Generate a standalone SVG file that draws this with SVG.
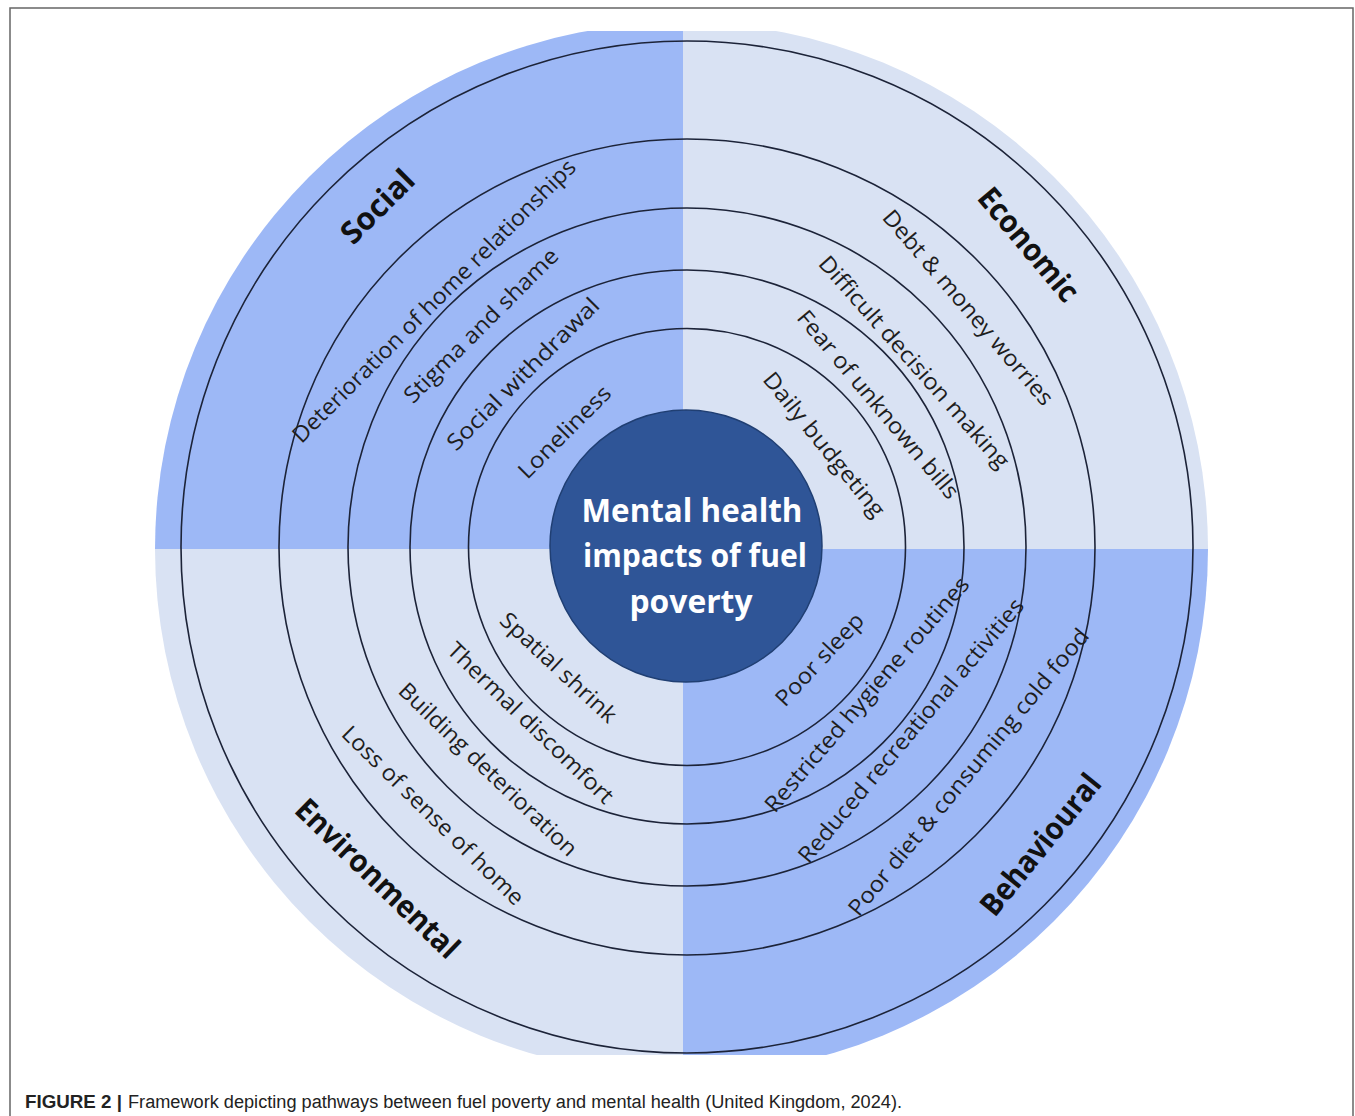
<svg xmlns="http://www.w3.org/2000/svg" width="1355" height="1116" viewBox="0 0 1355 1116">
<style>
.item{font-family:"Open Sans","Noto Sans",sans-serif;font-size:22.5px;fill:#1e1e1e;text-anchor:middle}
.title{font-family:"Open Sans","Noto Sans",sans-serif;font-size:31px;font-weight:bold;fill:#111;text-anchor:middle}
.center{font-family:"Open Sans","Noto Sans",sans-serif;font-size:31.5px;font-weight:bold;fill:#fff;text-anchor:middle}
.ring{fill:none;stroke:#1c2338;stroke-width:1.6}
.dark{fill:#9db8f6}
.light{fill:#d9e2f3}
.cap{font-family:"Liberation Sans",Arial,sans-serif;font-size:18px;fill:#222}
</style>
<defs>
<clipPath id="disc"><circle cx="681.5" cy="549" r="526.5"/></clipPath>
</defs>
<rect width="1355" height="1116" fill="#fff"/>
<path d="M10,1120 V8 H1353 V1120" fill="none" stroke="#666" stroke-width="1.5"/>

<g id="quadrants" clip-path="url(#disc)">
<rect id="q-social" class="dark" x="150" y="31" width="533" height="518"/>
<rect id="q-economic" class="light" x="683" y="31" width="530" height="518"/>
<rect id="q-environmental" class="light" x="150" y="549" width="533" height="506"/>
<rect id="q-behavioural" class="dark" x="683" y="549" width="530" height="506"/>
</g>

<g id="rings">
<circle class="ring" cx="687" cy="547" r="506"/>
<circle class="ring" cx="687" cy="547" r="408"/>
<circle class="ring" cx="687" cy="547" r="339"/>
<circle class="ring" cx="687" cy="547" r="277"/>
<circle class="ring" cx="687" cy="547" r="218.5"/>
</g>

<g id="center-node">
<circle cx="686" cy="546" r="136" fill="#2f5597" stroke="#203f73" stroke-width="1.5"/>
<text class="center" x="692" y="522" textLength="221" lengthAdjust="spacingAndGlyphs">Mental health</text>
<text class="center" x="695" y="567" textLength="224" lengthAdjust="spacingAndGlyphs">impacts of fuel</text>
<text class="center" x="691" y="613" textLength="123" lengthAdjust="spacingAndGlyphs">poverty</text>
</g>

<g id="social">
<text class="title" transform="translate(378,207) rotate(-45)" y="10" textLength="90" lengthAdjust="spacingAndGlyphs">Social</text>
<text class="item" transform="translate(434.5,301.5) rotate(-45)" y="7" textLength="390" lengthAdjust="spacingAndGlyphs">Deterioration of home relationships</text>
<text class="item" transform="translate(481.5,326) rotate(-45)" y="7" textLength="208" lengthAdjust="spacingAndGlyphs">Stigma and shame</text>
<text class="item" transform="translate(523.5,374.5) rotate(-45)" y="7" textLength="205" lengthAdjust="spacingAndGlyphs">Social withdrawal</text>
<text class="item" transform="translate(565,432.5) rotate(-45)" y="7" textLength="121" lengthAdjust="spacingAndGlyphs">Loneliness</text>
</g>

<g id="economic">
<text class="title" transform="translate(1028,245) rotate(50)" y="10" textLength="138" lengthAdjust="spacingAndGlyphs">Economic</text>
<text class="item" transform="translate(967.5,308) rotate(49.5)" y="7" textLength="249" lengthAdjust="spacingAndGlyphs">Debt &amp; money worries</text>
<text class="item" transform="translate(913.5,362.5) rotate(48.5)" y="7" textLength="275" lengthAdjust="spacingAndGlyphs">Difficult decision making</text>
<text class="item" transform="translate(877.5,405) rotate(50)" y="7" textLength="238" lengthAdjust="spacingAndGlyphs">Fear of unknown bills</text>
<text class="item" transform="translate(823.5,445) rotate(51)" y="7" textLength="179" lengthAdjust="spacingAndGlyphs">Daily budgeting</text>
</g>

<g id="environmental">
<text class="item" transform="translate(558,668) rotate(43)" y="7" textLength="150" lengthAdjust="spacingAndGlyphs">Spatial shrink</text>
<text class="item" transform="translate(530,723.5) rotate(44)" y="7" textLength="221" lengthAdjust="spacingAndGlyphs">Thermal discomfort</text>
<text class="item" transform="translate(487.5,770) rotate(44)" y="7" textLength="238" lengthAdjust="spacingAndGlyphs">Building deterioration</text>
<text class="item" transform="translate(432.5,816) rotate(44.5)" y="7" textLength="245" lengthAdjust="spacingAndGlyphs">Loss of sense of home</text>
<text class="title" transform="translate(377,879) rotate(44)" y="10" textLength="214" lengthAdjust="spacingAndGlyphs">Environmental</text>
</g>

<g id="behavioural">
<text class="item" transform="translate(820,660) rotate(-47)" y="7" textLength="118" lengthAdjust="spacingAndGlyphs">Poor sleep</text>
<text class="item" transform="translate(867.5,695) rotate(-49.5)" y="7" textLength="301" lengthAdjust="spacingAndGlyphs">Restricted hygiene routines</text>
<text class="item" transform="translate(911.5,731) rotate(-50)" y="7" textLength="337" lengthAdjust="spacingAndGlyphs">Reduced recreational activities</text>
<text class="item" transform="translate(969,772.5) rotate(-50.5)" y="7" textLength="364" lengthAdjust="spacingAndGlyphs">Poor diet &amp; consuming cold food</text>
<text class="title" transform="translate(1041,845) rotate(-51)" y="10" textLength="172" lengthAdjust="spacingAndGlyphs">Behavioural</text>
</g>

<g id="caption">
<text class="cap" x="25" y="1108" font-weight="bold" textLength="97" lengthAdjust="spacingAndGlyphs">FIGURE 2 |</text>
<text class="cap" x="128" y="1108" textLength="774" lengthAdjust="spacingAndGlyphs">Framework depicting pathways between fuel poverty and mental health (United Kingdom, 2024).</text>
</g>
</svg>
